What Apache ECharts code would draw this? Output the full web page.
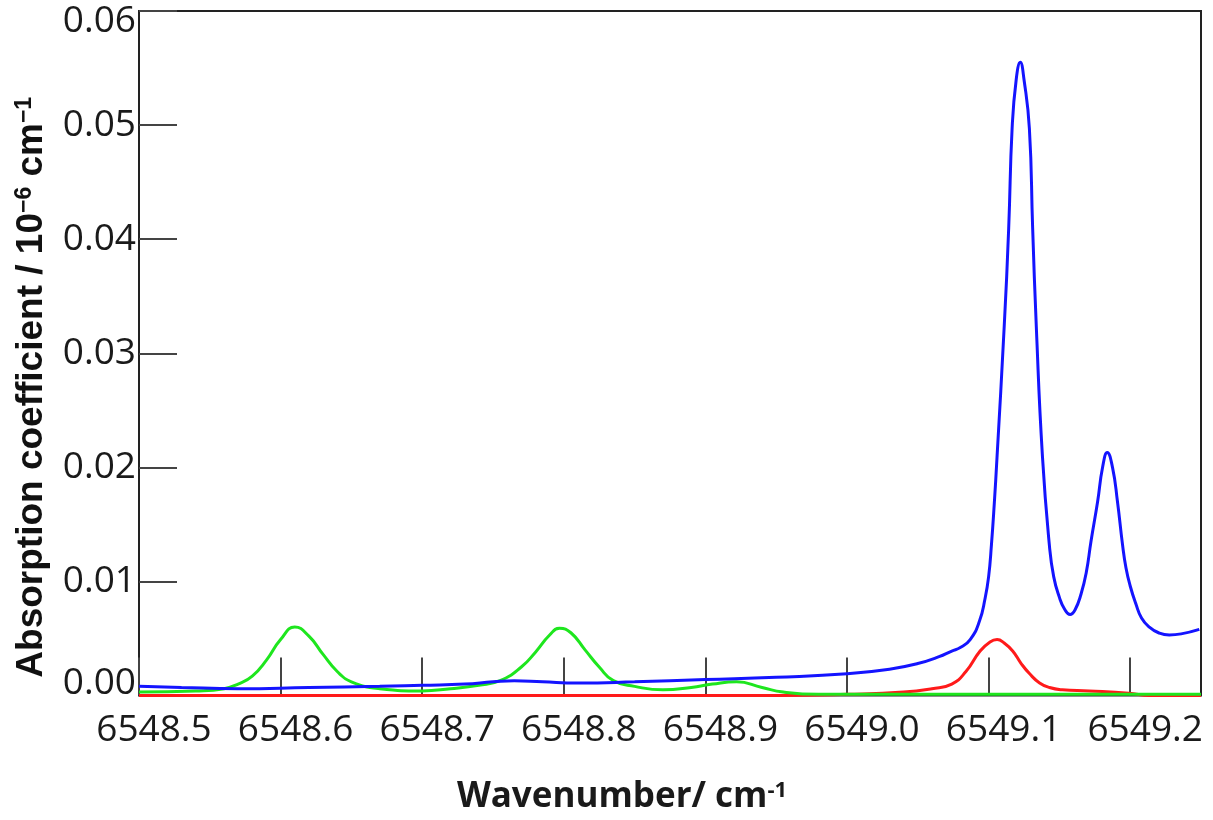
<!DOCTYPE html>
<html>
<head>
<meta charset="utf-8">
<script src="https://cdn.jsdelivr.net/npm/echarts@6/dist/echarts.min.js"></script>
<style>
  html, body { margin: 0; padding: 0; background: #fff; }
  #mainChart { width: 1213px; height: 820px; }
</style>
</head>
<body>
<div id="mainChart"></div>
<script>
// wavenumber (cm-1), absorption coefficient (1e-6 cm-1)
var blueData = [
    [6548.500, 0.0008], [6548.530, 0.0007], [6548.570, 0.0006], [6548.620, 0.0007],
    [6548.670, 0.0008], [6548.700, 0.0009], [6548.730, 0.0010], [6548.750, 0.0012],
    [6548.765, 0.0013], [6548.785, 0.0012], [6548.810, 0.0011], [6548.850, 0.0012],
    [6548.900, 0.0014], [6548.950, 0.0016], [6549.000, 0.0019], [6549.030, 0.0023],
    [6549.050, 0.0028], [6549.065, 0.0034], [6549.074, 0.0039], [6549.080, 0.0042],
    [6549.087, 0.0049], [6549.0935, 0.0065], [6549.0975, 0.0085], [6549.100, 0.0104],
    [6549.102, 0.0132], [6549.104, 0.0168], [6549.106, 0.0210], [6549.111, 0.0323],
    [6549.1142, 0.0410], [6549.1166, 0.0497], [6549.1195, 0.0540], [6549.1224, 0.0555],
    [6549.125, 0.0540], [6549.1288, 0.0497], [6549.1311, 0.0410], [6549.1337, 0.0323],
    [6549.138, 0.0210], [6549.1429, 0.0132], [6549.146, 0.0104], [6549.150, 0.0086],
    [6549.1535, 0.0076], [6549.1575, 0.0071], [6549.161, 0.0075], [6549.1653, 0.0089],
    [6549.169, 0.0108], [6549.1723, 0.0135], [6549.177, 0.0170], [6549.1805, 0.0200],
    [6549.1838, 0.0213], [6549.1875, 0.0200], [6549.191, 0.0170], [6549.1946, 0.0132],
    [6549.197, 0.0112], [6549.200, 0.0096], [6549.2041, 0.0080], [6549.208, 0.0068],
    [6549.2135, 0.0060], [6549.220, 0.0055], [6549.2276, 0.0053], [6549.236, 0.0054],
    [6549.2488, 0.0058]
];
var greenData = [
    [6548.500, 0.0003], [6548.540, 0.0004], [6548.560, 0.0006], [6548.570, 0.0010],
    [6548.580, 0.0017], [6548.590, 0.0031], [6548.600, 0.0049], [6548.610, 0.0060],
    [6548.620, 0.0052], [6548.630, 0.0036], [6548.640, 0.0021], [6548.650, 0.0012],
    [6548.670, 0.0006], [6548.700, 0.0004], [6548.720, 0.0006], [6548.740, 0.0009],
    [6548.755, 0.0013], [6548.770, 0.0025], [6548.780, 0.0038], [6548.790, 0.0053],
    [6548.797, 0.0059], [6548.805, 0.0055], [6548.815, 0.0040], [6548.825, 0.0025],
    [6548.835, 0.0013], [6548.850, 0.0008], [6548.870, 0.0005], [6548.890, 0.0007],
    [6548.905, 0.0010], [6548.922, 0.0012], [6548.940, 0.0007], [6548.955, 0.0003],
    [6548.980, 0.0001], [6549.000, 0.0001], [6549.250, 0.0001]
];
var redData = [
    [6548.500, 0.0000], [6548.950, 0.0000], [6549.000, 0.0001], [6549.040, 0.0003],
    [6549.060, 0.0006], [6549.074, 0.0010], [6549.084, 0.0021], [6549.094, 0.0039],
    [6549.101, 0.0047], [6549.106, 0.0049], [6549.111, 0.0046], [6549.117, 0.0039],
    [6549.123, 0.0028], [6549.129, 0.0019], [6549.136, 0.0011], [6549.143, 0.0007],
    [6549.152, 0.0005], [6549.171, 0.0004], [6549.199, 0.0002], [6549.214, 0.0000],
    [6549.250, 0.0000]
];
var xTickLabels = ['6548.5', '6548.6', '6548.7', '6548.8', '6548.9', '6549.0', '6549.1', '6549.2'];
var yTickLabels = ['0.00', '0.01', '0.02', '0.03', '0.04', '0.05', '0.06'];

var myChart = echarts.init(document.getElementById('mainChart'));

function lineSeries(name, data, color) {
    return {
        name: name,
        type: 'line',
        data: data,
        smooth: 0.5,
        showSymbol: false,
        lineStyle: { color: color, width: 3 },
        itemStyle: { color: color }
    };
}

myChart.setOption({
    animation: false,
    grid: {
        left: 139,
        right: 12,
        top: 11,
        bottom: 118,
        show: true,
        borderColor: '#222',
        borderWidth: 2
    },
    xAxis: {
        type: 'value',
        min: 6548.5,
        max: 6549.25,
        interval: 0.1,
        splitLine: { show: false },
        axisLine: { show: false },
        axisTick: { inside: true, length: 38, lineStyle: { color: '#444', width: 2 } },
        axisLabel: {
            margin: 16,
            fontFamily: 'Open Sans',
            fontSize: 37,
            color: '#1a1a1a',
            padding: [0, 0, 0, 30],
            showMaxLabel: false,
            formatter: function (v) {
                var s = v.toFixed(1);
                return xTickLabels.indexOf(s) >= 0 ? s : '';
            }
        },
        name: '{b|Wavenumber/ cm}{s|-1}',
        nameLocation: 'middle',
        nameGap: 84,
        nameTextStyle: {
            padding: [0, 96, 0, 0],
            rich: {
                b: { fontFamily: 'Open Sans', fontWeight: 'bold', fontSize: 35, color: '#1a1a1a' },
                s: { fontFamily: 'Open Sans', fontWeight: 'bold', fontSize: 22, color: '#1a1a1a', verticalAlign: 'top', padding: [0, 0, 14, 0] }
            }
        }
    },
    yAxis: {
        type: 'value',
        min: 0,
        max: 0.06,
        interval: 0.01,
        splitLine: { show: false },
        axisLine: { show: false },
        axisTick: { inside: true, length: 38, lineStyle: { color: '#444', width: 2 } },
        axisLabel: {
            margin: 3,
            color: '#1a1a1a',
            formatter: function (v) {
                var s = yTickLabels[Math.round(v * 100)];
                if (s === '0.06') return '{top|' + s + '}';
                if (s === '0.00') return '{bot|' + s + '}';
                return '{n|' + s + '}';
            },
            rich: {
                n: { fontFamily: 'Open Sans', fontSize: 37, color: '#1a1a1a' },
                top: { fontFamily: 'Open Sans', fontSize: 37, color: '#1a1a1a', padding: [20, 0, 0, 0] },
                bot: { fontFamily: 'Open Sans', fontSize: 37, color: '#1a1a1a', padding: [0, 0, 24, 0] }
            }
        },
        name: '{b|Absorption coefficient / 10}{s|\u22126}{b| cm}{s|\u22121}',
        nameLocation: 'middle',
        nameGap: 89,
        nameTextStyle: {
            padding: [0, 68, 0, 0],
            rich: {
                b: { fontFamily: 'Liberation Sans', fontWeight: 'bold', fontSize: 37, color: '#111' },
                s: { fontFamily: 'Liberation Sans', fontWeight: 'bold', fontSize: 23, color: '#111', verticalAlign: 'top', padding: [0, 0, 14, 0] }
            }
        }
    },
    series: [
        lineSeries('red', redData, '#ff1a1a'),
        lineSeries('green', greenData, '#1ee61e'),
        lineSeries('blue', blueData, '#1414ff')
    ]
});
</script>
</body>
</html>
